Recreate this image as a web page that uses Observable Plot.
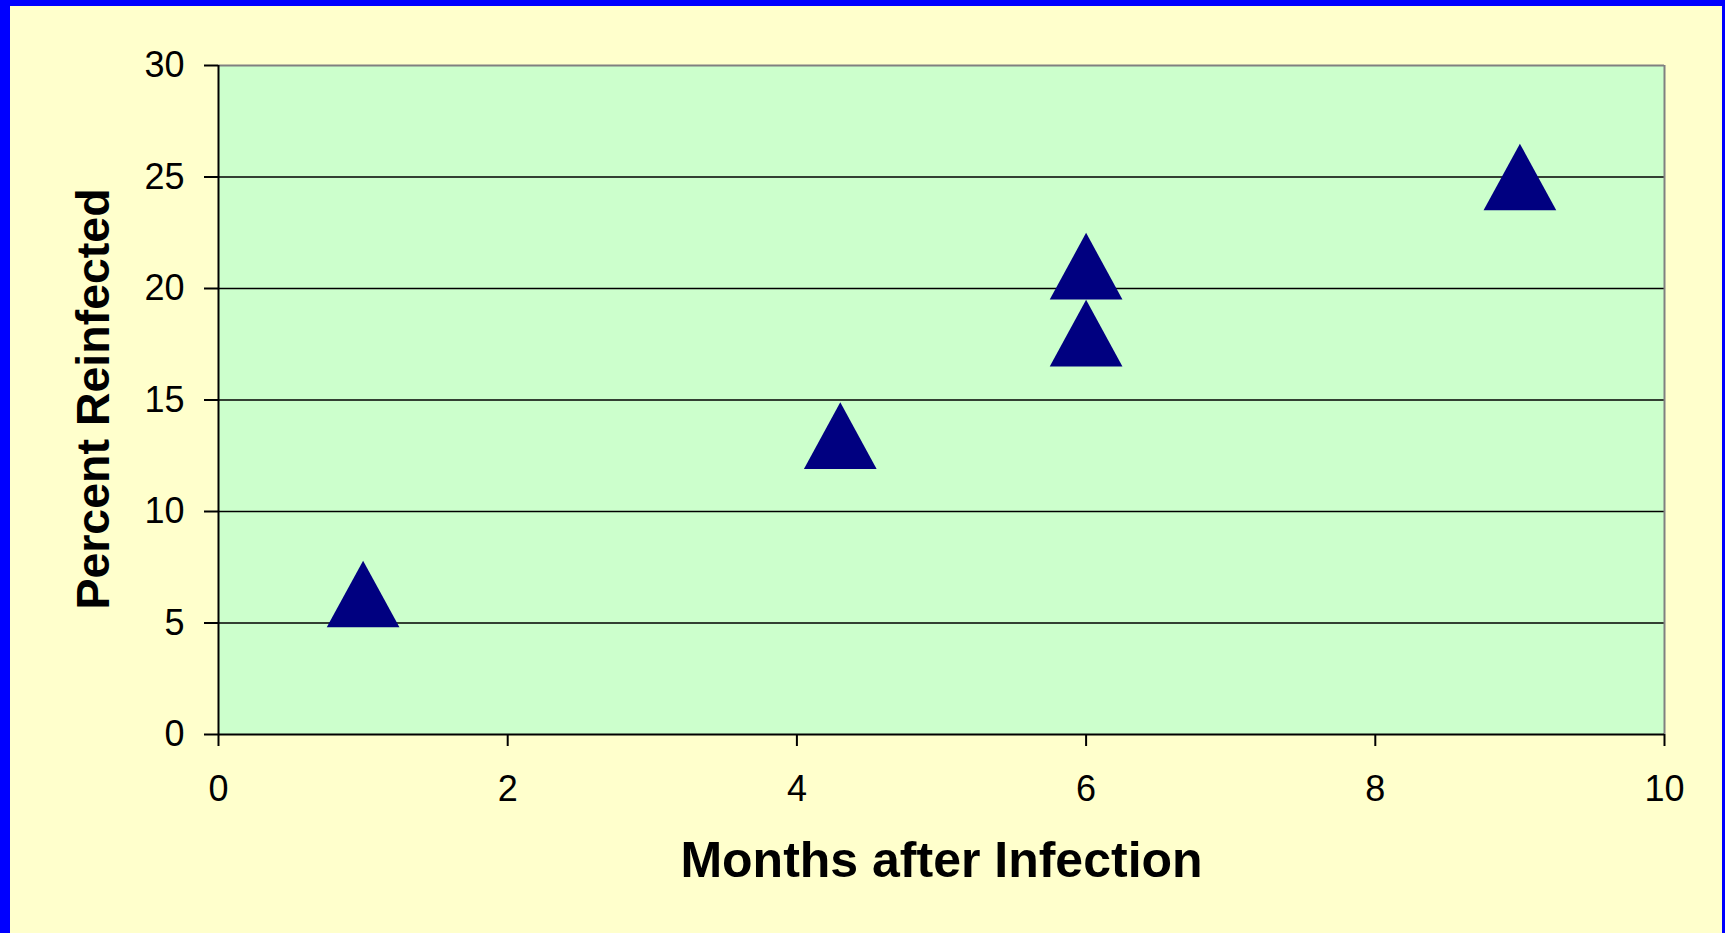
<!DOCTYPE html>
<html>
<head>
<meta charset="utf-8">
<script src="https://cdn.jsdelivr.net/npm/d3@7"></script>
<script src="https://cdn.jsdelivr.net/npm/@observablehq/plot@0.6"></script>
<style>
  html, body { margin: 0; padding: 0; background: #FFFFCC; }
  #wrap { position: relative; width: 1725px; height: 933px; background: #FFFFCC; overflow: hidden; }
  #chart { position: absolute; left: 0; top: 0; }
  .bd { position: absolute; background: #0000FF; pointer-events: none; }
</style>
</head>
<body>
<div id="wrap">
  <div id="chart"></div>
  <div class="bd" style="left:0;top:0;width:10px;height:933px"></div>
  <div class="bd" style="left:0;top:0;width:1725px;height:6px"></div>
  <div class="bd" style="right:0;top:0;width:3px;height:933px"></div>
</div>
<script>
// Data
const months = [1, 4.3, 6, 6, 9];
const percent = [6.3, 13.4, 18, 21, 25];
const xTicks = [0, 2, 4, 6, 8, 10];
const yTicks = [0, 5, 10, 15, 20, 25, 30];
const gridValues = [5, 10, 15, 20, 25];
const xTitle = "Months after Infection";
const yTitle = "Percent Reinfected";

const points = months.map((m, i) => ({month: m, pct: percent[i]}));

// Triangle marker centred on its bounding box (slightly taller than equilateral)
const triangle = {
  draw(ctx, size) {
    const r = Math.sqrt(size / Math.PI);
    const w = r;
    const h = r * 66.7 / 72.7;
    ctx.moveTo(0, -h);
    ctx.lineTo(w, h);
    ctx.lineTo(-w, h);
    ctx.closePath();
  }
};

const chart = Plot.plot({
  width: 1725,
  height: 933,
  marginLeft: 218,
  marginTop: 65,
  marginRight: 61,
  marginBottom: 199,
  style: {background: "transparent", color: "black", fontFamily: "'Liberation Sans', Arial, sans-serif"},
  x: {domain: [0, 10], nice: false},
  y: {domain: [0, 30], nice: false},
  marks: [
    Plot.frame({fill: "#CCFFCC", stroke: "none"}),
    Plot.ruleY(gridValues, {stroke: "black", strokeWidth: 1.5}),
    Plot.ruleY([30], {stroke: "#808080", strokeWidth: 2}),
    Plot.ruleX([10], {stroke: "#808080", strokeWidth: 2}),
    Plot.ruleY([0], {stroke: "black", strokeWidth: 2}),
    Plot.ruleX([0], {stroke: "black", strokeWidth: 2}),
    Plot.axisY({ticks: yTicks, tickSize: 14, tickPadding: 20, fontSize: 36, label: null, strokeWidth: 2, stroke: "black", fill: "black"}),
    Plot.axisX({ticks: xTicks, tickSize: 12, tickPadding: 29, fontSize: 36, label: null, strokeWidth: 2, stroke: "black", fill: "black"}),
    Plot.dot(points, {x: "month", y: "pct", r: 36.35, symbol: triangle, fill: "#000080", stroke: "none"}),
    Plot.text([xTitle], {frameAnchor: "bottom", dy: 142.5, dx: 0, fontSize: 50, fontWeight: "bold", lineAnchor: "bottom", textAnchor: "middle", fill: "black"}),
    Plot.text([yTitle], {frameAnchor: "left", dx: -110, dy: -1, rotate: -90, fontSize: 46.5, fontWeight: "bold", lineAnchor: "bottom", textAnchor: "middle", fill: "black"})
  ]
});
document.getElementById("chart").appendChild(chart);
</script>
</body>
</html>
